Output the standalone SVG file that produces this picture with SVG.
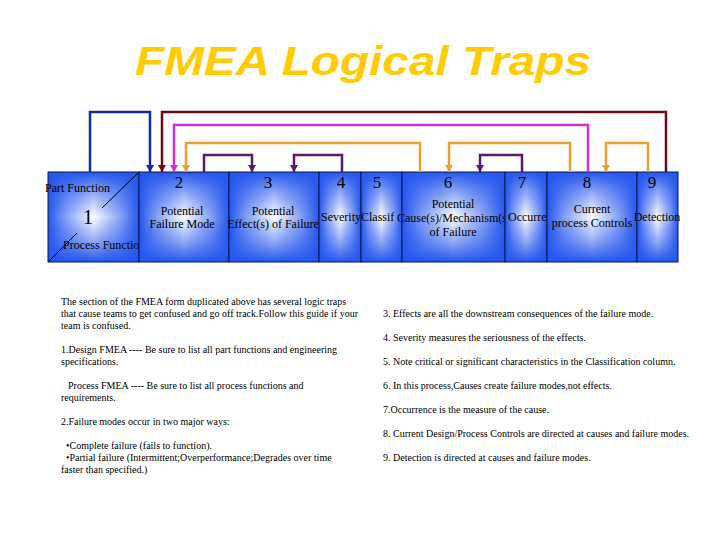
<svg xmlns="http://www.w3.org/2000/svg" width="720" height="540" viewBox="0 0 720 540">
<style>
.t{font-family:"Liberation Serif","Times New Roman",serif;fill:#000}
.lab{font-size:12px}
.num{font-size:17px;text-anchor:middle}
.c{text-anchor:middle}
.body{font-size:10px}
.frame{fill:none;stroke:#0a1850;stroke-width:1}
.bg{fill:#ffffff}
.gh{fill:url(#gh)}
.gv{fill:url(#gv)}
.conn{fill:none;stroke-width:2.5;stroke-linejoin:miter}
</style>
<defs>
<linearGradient id="gh" x1="0" y1="0" x2="1" y2="0">
<stop offset="0" stop-color="#2456ee" stop-opacity="1"/>
<stop offset="0.2" stop-color="#2456ee" stop-opacity="0.55"/>
<stop offset="0.5" stop-color="#2456ee" stop-opacity="0"/>
<stop offset="0.8" stop-color="#2456ee" stop-opacity="0.55"/>
<stop offset="1" stop-color="#2456ee" stop-opacity="1"/>
</linearGradient>
<linearGradient id="gv" x1="0" y1="0" x2="0" y2="1">
<stop offset="0" stop-color="#2456ee" stop-opacity="1"/>
<stop offset="0.2" stop-color="#2456ee" stop-opacity="0.55"/>
<stop offset="0.5" stop-color="#2456ee" stop-opacity="0"/>
<stop offset="0.8" stop-color="#2456ee" stop-opacity="0.55"/>
<stop offset="1" stop-color="#2456ee" stop-opacity="1"/>
</linearGradient>
<clipPath id="clip5"><rect x="361" y="172" width="36" height="90"/></clipPath>
<clipPath id="clip6"><rect x="380" y="172" width="125" height="90"/></clipPath>
<clipPath id="clip7"><rect x="505" y="172" width="42" height="90"/></clipPath>
<clipPath id="clip1"><rect x="40" y="172" width="99" height="90"/></clipPath>
<marker id="mBlue" markerWidth="8" markerHeight="8" refX="7" refY="4" orient="auto" markerUnits="userSpaceOnUse"><path d="M0,0 L7,4 L0,8 z" fill="#1428a0"/></marker>
<marker id="mMaroon" markerWidth="8" markerHeight="8" refX="7" refY="4" orient="auto" markerUnits="userSpaceOnUse"><path d="M0,0 L7,4 L0,8 z" fill="#6a0a14"/></marker>
<marker id="mMag" markerWidth="8" markerHeight="8" refX="7" refY="4" orient="auto" markerUnits="userSpaceOnUse"><path d="M0,0 L7,4 L0,8 z" fill="#cc33cc"/></marker>
<marker id="mOr" markerWidth="8" markerHeight="8" refX="7" refY="4" orient="auto" markerUnits="userSpaceOnUse"><path d="M0,0 L7,4 L0,8 z" fill="#e8a030"/></marker>
<marker id="mPur" markerWidth="8" markerHeight="8" refX="7" refY="4" orient="auto" markerUnits="userSpaceOnUse"><path d="M0,0 L7,4 L0,8 z" fill="#5a1a6e"/></marker>
</defs>
<rect x="0" y="0" width="720" height="540" fill="#ffffff"/>
<text id="title" x="363" y="75" text-anchor="middle" textLength="456" lengthAdjust="spacingAndGlyphs" style="font-family:'Liberation Sans',Arial,sans-serif;font-size:41px;font-weight:bold;font-style:italic;fill:#ffcc00">FMEA Logical Traps</text>

<g id="box1">
<rect class="bg" x="48" y="172" width="91" height="90"/><rect class="gh" x="48" y="172" width="91" height="90"/><rect class="gv" x="48" y="172" width="91" height="90"/><rect class="frame" x="48" y="172" width="91" height="90"/>
<line x1="48" y1="262" x2="77" y2="233" stroke="#000" stroke-width="1"/>
<line x1="102" y1="208" x2="139" y2="172" stroke="#000" stroke-width="1"/>
<text class="t lab" x="45" y="192">Part Function</text>
<text class="t" x="88" y="224" text-anchor="middle" font-size="20">1</text>
<text class="t lab" x="63" y="249" clip-path="url(#clip1)">Process Functio</text>
</g>
<g id="box2">
<rect class="bg" x="139" y="172" width="90" height="90"/><rect class="gh" x="139" y="172" width="90" height="90"/><rect class="gv" x="139" y="172" width="90" height="90"/><rect class="frame" x="139" y="172" width="90" height="90"/>
<text class="t num" x="179" y="188">2</text>
<text class="t lab c" x="182" y="215">Potential</text>
<text class="t lab c" x="182" y="228">Failure Mode</text>
</g>
<g id="box3">
<rect class="bg" x="229" y="172" width="90" height="90"/><rect class="gh" x="229" y="172" width="90" height="90"/><rect class="gv" x="229" y="172" width="90" height="90"/><rect class="frame" x="229" y="172" width="90" height="90"/>
<text class="t num" x="268" y="188">3</text>
<text class="t lab c" x="273" y="215">Potential</text>
<text class="t lab c" x="273" y="228">Effect(s) of Failure</text>
</g>
<g id="box4">
<rect class="bg" x="319" y="172" width="42" height="90"/><rect class="gh" x="319" y="172" width="42" height="90"/><rect class="gv" x="319" y="172" width="42" height="90"/><rect class="frame" x="319" y="172" width="42" height="90"/>
<text class="t num" x="341" y="188">4</text>
<text class="t lab c" x="341" y="221">Severity</text>
</g>
<g id="box5">
<rect class="bg" x="361" y="172" width="41" height="90"/><rect class="gh" x="361" y="172" width="41" height="90"/><rect class="gv" x="361" y="172" width="41" height="90"/><rect class="frame" x="361" y="172" width="41" height="90"/>
<text class="t num" x="377" y="188">5</text>
<text class="t lab" x="361" y="221" clip-path="url(#clip5)">Classif</text>
</g>
<g id="box6">
<rect class="bg" x="402" y="172" width="103" height="90"/><rect class="gh" x="402" y="172" width="103" height="90"/><rect class="gv" x="402" y="172" width="103" height="90"/><rect class="frame" x="402" y="172" width="103" height="90"/>
<text class="t num" x="448" y="188">6</text>
<text class="t lab c" x="453" y="208">Potential</text>
<text class="t lab" x="397" y="222" clip-path="url(#clip6)">Cause(s)/Mechanism(s</text>
<text class="t lab c" x="453" y="236">of Failure</text>
</g>
<g id="box7">
<rect class="bg" x="505" y="172" width="42" height="90"/><rect class="gh" x="505" y="172" width="42" height="90"/><rect class="gv" x="505" y="172" width="42" height="90"/><rect class="frame" x="505" y="172" width="42" height="90"/>
<text class="t num" x="522" y="188">7</text>
<text class="t lab" x="508" y="221" clip-path="url(#clip7)">Occurre</text>
</g>
<g id="box8">
<rect class="bg" x="547" y="172" width="90" height="90"/><rect class="gh" x="547" y="172" width="90" height="90"/><rect class="gv" x="547" y="172" width="90" height="90"/><rect class="frame" x="547" y="172" width="90" height="90"/>
<text class="t num" x="587" y="188">8</text>
<text class="t lab c" x="592" y="213">Current</text>
<text class="t lab c" x="592" y="227">process Controls</text>
</g>
<g id="box9">
<rect class="bg" x="637" y="172" width="41" height="90"/><rect class="gh" x="637" y="172" width="41" height="90"/><rect class="gv" x="637" y="172" width="41" height="90"/><rect class="frame" x="637" y="172" width="41" height="90"/>
<text class="t num" x="652" y="188">9</text>
<text class="t lab c" x="657" y="221">Detection</text>
</g>

<g id="connectors">
<path class="conn" stroke="#1428a0" marker-end="url(#mBlue)" d="M90,172 V112 H150 V172"/>
<path class="conn" stroke="#6a0a14" marker-end="url(#mMaroon)" d="M666,172 V112 H162 V172"/>
<path class="conn" stroke="#cc33cc" marker-end="url(#mMag)" d="M588,172 V125 H174 V172"/>
<path class="conn" stroke="#e8a030" marker-end="url(#mOr)" d="M420,172 V143 H186 V172"/>
<path class="conn" stroke="#e8a030" marker-end="url(#mOr)" d="M570,172 V143 H449 V172"/>
<path class="conn" stroke="#e8a030" marker-end="url(#mOr)" d="M648,172 V143 H606 V172"/>
<path class="conn" stroke="#5a1a6e" marker-end="url(#mPur)" d="M204,172 V155 H252 V172"/>
<path class="conn" stroke="#5a1a6e" marker-end="url(#mPur)" d="M342,172 V155 H294 V172"/>
<path class="conn" stroke="#5a1a6e" marker-end="url(#mPur)" d="M522,172 V155 H480 V172"/>
</g>

<g id="notes-left" class="t body" xml:space="preserve">
<text x="61" y="305"> The section of the FMEA form duplicated above has several logic traps</text>
<text x="61" y="317">that cause teams to get confused and go off track.Follow this guide if your</text>
<text x="61" y="329">team is confused.</text>
<text x="61" y="353">1.Design FMEA ---- Be sure to list all part functions and engineering</text>
<text x="61" y="365">specifications.</text>
<text x="68" y="389">Process FMEA ---- Be sure to list all process functions and</text>
<text x="61" y="401">requirements.</text>
<text x="61" y="425">2.Failure modes occur in two major ways:</text>
<text x="66" y="449">•Complete failure  (fails to function).</text>
<text x="66" y="461">•Partial failure (Intermittent;Overperformance;Degrades over time</text>
<text x="61" y="473">faster than specified.)</text>
</g>
<g id="notes-right" class="t body">
<text x="383" y="317">3. Effects are all the downstream consequences of the failure mode.</text>
<text x="383" y="341">4. Severity measures the seriousness of the effects.</text>
<text x="383" y="365">5. Note critical or significant characteristics in the Classification column.</text>
<text x="383" y="389">6. In this process,Causes create failure modes,not effects.</text>
<text x="383" y="413">7.Occurrence is the measure of the cause.</text>
<text x="383" y="437">8. Current Design/Process Controls are directed at causes and failure modes.</text>
<text x="383" y="461">9. Detection is directed at causes and failure modes.</text>
</g>
</svg>
